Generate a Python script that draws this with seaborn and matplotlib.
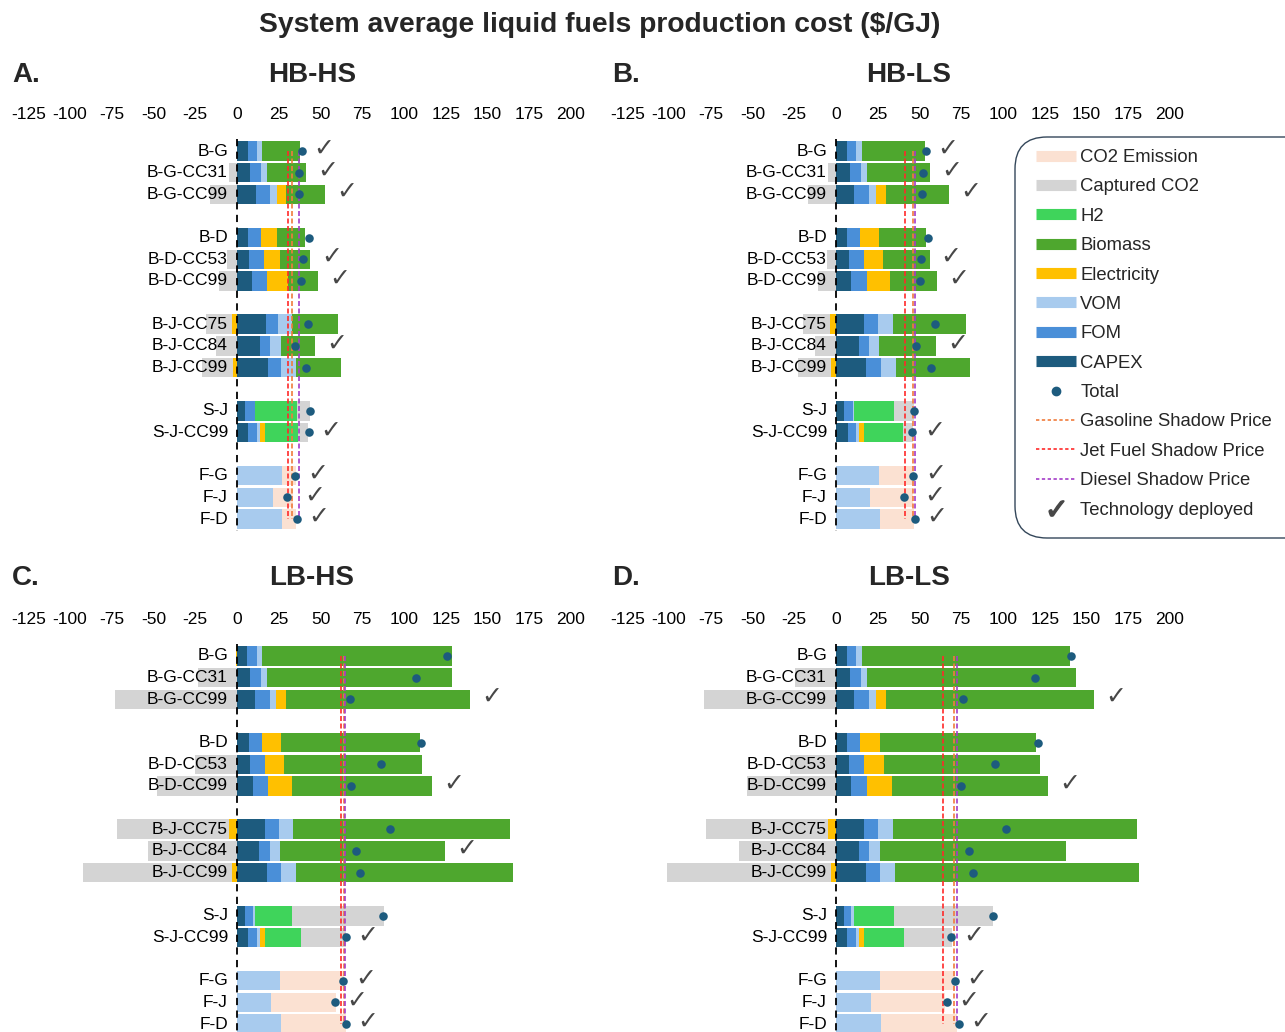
import matplotlib
matplotlib.use("Agg")
import matplotlib.pyplot as plt
import seaborn as sns
from matplotlib.lines import Line2D
from matplotlib.patches import FancyBboxPatch
from matplotlib.transforms import IdentityTransform

sns.set_theme(style="white")
plt.rcParams["font.family"] = ["Liberation Sans", "DejaVu Sans"]

# ---------------- data ----------------
categories = ["B-G", "B-G-CC31", "B-G-CC99", "B-D", "B-D-CC53", "B-D-CC99",
              "B-J-CC75", "B-J-CC84", "B-J-CC99", "S-J", "S-J-CC99",
              "F-G", "F-J", "F-D"]
row_groups = [0, 0, 0, 1, 1, 1, 2, 2, 2, 3, 3, 4, 4, 4]
tick_values = [-125, -100, -75, -50, -25, 0, 25, 50, 75, 100, 125, 150, 175, 200]

panel_letters = ["A.", "B.", "C.", "D."]
panel_titles = ["HB-HS", "HB-LS", "LB-HS", "LB-LS"]

# HB-HS
capex_A   = [6.5, 8, 11.5, 6.5, 7, 9, 17.5, 13.5, 18.5, 5, 6.5, 0, 0, 0]
fom_A     = [5.5, 6.5, 8, 8, 9, 9, 7, 6, 8, 5.5, 5.5, 0, 0, 0]
vom_A     = [3, 3.5, 4.5, 0, 0, 0, 8.5, 7, 9, 0.5, 2, 27, 21.5, 27]
elec_A    = [0, 0, 5.5, 9.5, 10, 12.5, -3, 0, -2.5, 0, 2.5, 0, 0, 0]
biomass_A = [23, 23.5, 23, 17, 17.5, 18, 27.5, 20.5, 27, 0, 0, 0, 0, 0]
h2_A      = [0, 0, 0, 0, 0, 0, 0, 0, 0, 25, 20, 0, 0, 0]
capco2_A  = [0, -5, -16, 0, -6, -11, -15.5, -12.5, -18.5, 8, 6, 0, 0, 0]
emis_A    = [0, 0, 0, 0, 0, 0, 0, 0, 0, 0, 0, 8.5, 12, 8.5]
total_A   = [39, 37, 37, 43, 39.5, 38.5, 42.5, 35, 41.5, 43.5, 43, 35, 30, 36]
deployed_A = [1, 1, 1, 0, 1, 1, 0, 1, 0, 0, 1, 1, 1, 1]
shadow_A  = [33, 30.5, 37]   # gasoline, jet fuel, diesel

# HB-LS
capex_B   = [6.5, 8.5, 11, 6.5, 7.5, 9, 17, 13.5, 18, 5, 7, 0, 0, 0]
fom_B     = [5.5, 6.5, 8.5, 8, 9, 9.5, 8, 6.5, 9, 5, 5, 0, 0, 0]
vom_B     = [3.5, 3.5, 4.5, 0, 0, 0, 9, 6, 9, 0.5, 1.5, 26, 20.5, 26.5]
elec_B    = [0, 0, 6, 11.5, 11.5, 14, -3.5, 0, -3, 0, 3.5, 0, 0, 0]
biomass_B = [38, 38, 37.5, 28, 28, 28, 44, 34, 44, 0, 0, 0, 0, 0]
h2_B      = [0, 0, 0, 0, 0, 0, 0, 0, 0, 24, 23, 0, 0, 0]
capco2_B  = [0, -5, -17, 0, -5.5, -11, -16.5, -12.5, -20, 12.5, 6, 0, 0, 0]
emis_B    = [0, 0, 0, 0, 0, 0, 0, 0, 0, 0, 0, 20.5, 25.5, 20.5]
total_B   = [54, 52, 51.5, 55, 51, 50.5, 59, 48, 57, 46.5, 45.5, 46, 41, 47.5]
deployed_B = [1, 1, 1, 0, 1, 1, 0, 1, 0, 0, 1, 1, 1, 1]
shadow_B  = [46, 41.5, 47.5]

# LB-HS
capex_C   = [6, 8, 11, 7, 8, 9.5, 17, 13, 18, 5, 6.5, 0, 0, 0]
fom_C     = [6, 6.5, 8.5, 8, 8.5, 9, 8, 6.5, 8.5, 4.5, 5.5, 0, 0, 0]
vom_C     = [3, 3.5, 4, 0, 0, 0, 8.5, 6.5, 9, 1.5, 1.5, 26, 20.5, 26.5]
elec_C    = [-0.8, 0, 6, 11.5, 11.5, 14.5, -4.5, 0, -3, 0, 3.5, 0, 0, 0]
biomass_C = [113.5, 110.5, 110, 83, 83, 83.5, 130, 98.5, 130, 0, 0, 0, 0, 0]
h2_C      = [0, 0, 0, 0, 0, 0, 0, 0, 0, 22, 21.5, 0, 0, 0]
capco2_C  = [0, -23.5, -73, 0, -25, -48, -67.5, -53.5, -89, 55, 26.5, 0, 0, 0]
emis_C    = [0, 0, 0, 0, 0, 0, 0, 0, 0, 0, 0, 38, 38.5, 38.5]
total_C   = [126, 107, 67.5, 110, 86, 68.5, 91.5, 71.5, 73.5, 87.5, 65, 63.5, 58.5, 65]
deployed_C = [0, 0, 1, 0, 0, 1, 0, 1, 0, 0, 1, 1, 1, 1]
shadow_C  = [64, 62, 64.5]

# LB-LS
capex_D   = [6.5, 8.5, 11, 6.5, 8, 9, 17, 13.5, 18, 5, 6.5, 0, 0, 0]
fom_D     = [5.5, 6.5, 8.5, 8, 8.5, 9.5, 8, 6, 8.5, 4, 5.5, 0, 0, 0]
vom_D     = [3.5, 3.5, 4.5, 0, 0, 0, 9, 7, 9, 1.5, 1.5, 26.5, 21, 27]
elec_D    = [0, 0, 6, 12, 12, 15, -5, 0, -3, 0, 3.5, 0, 0, 0]
biomass_D = [124.5, 125, 124.5, 93.5, 93.5, 93.5, 146, 111, 146, 0, 0, 0, 0, 0]
h2_D      = [0, 0, 0, 0, 0, 0, 0, 0, 0, 24, 23.5, 0, 0, 0]
capco2_D  = [0, -24.5, -79, 0, -27.5, -53, -73, -58, -98, 59.5, 29, 0, 0, 0]
emis_D    = [0, 0, 0, 0, 0, 0, 0, 0, 0, 0, 0, 44.5, 44.5, 45.5]
total_D   = [141, 119, 76, 121, 95, 75, 102, 79.5, 82, 94, 69, 71, 66.5, 73.5]
deployed_D = [0, 0, 1, 0, 0, 1, 0, 0, 0, 0, 1, 1, 1, 1]
shadow_D  = [70.5, 64, 72.5]

# ---------------- styles ----------------
C_CAPEX = "#1d5b7e"
C_FOM = "#4a8fd8"
C_VOM = "#a8cbee"
C_ELEC = "#ffc000"
C_BIO = "#4ea72e"
C_H2 = "#3fd45b"
C_CAP = "#d4d4d4"
C_EMIS = "#fbe1d2"
C_TOTAL = "#1d5b7e"
C_GAS = "#f07c3c"
C_JET = "#ff2a2a"
C_DIE = "#a43cc8"
C_CHECK = "#474747"

panels = [
    (capex_A, fom_A, vom_A, elec_A, biomass_A, h2_A, capco2_A, emis_A, total_A, deployed_A, shadow_A),
    (capex_B, fom_B, vom_B, elec_B, biomass_B, h2_B, capco2_B, emis_B, total_B, deployed_B, shadow_B),
    (capex_C, fom_C, vom_C, elec_C, biomass_C, h2_C, capco2_C, emis_C, total_C, deployed_C, shadow_C),
    (capex_D, fom_D, vom_D, elec_D, biomass_D, h2_D, capco2_D, emis_D, total_D, deployed_D, shadow_D),
]

W, H = 1285, 1032
fig = plt.figure(figsize=(W / 100, H / 100), dpi=100)

px_per_unit = 1.67
xlim = (-135, 210)
row_px = 21.65
zero_px = [237, 836, 237, 836]
row0_px = [151, 151, 656, 656]

ypos = [i + g for i, g in enumerate(row_groups)]
ylim = (ypos[-1] + 0.7, -0.9)

for k, data in enumerate(panels):
    capex, fom, vom, elec, bio, h2, cap, emis, total, dep, shadow = data
    left_px = zero_px[k] - (0 - xlim[0]) * px_per_unit
    width_px = (xlim[1] - xlim[0]) * px_per_unit
    top_px = row0_px[k] + ylim[1] * row_px
    height_px = (ylim[0] - ylim[1]) * row_px
    ax = fig.add_axes([left_px / W, 1 - (top_px + height_px) / H, width_px / W, height_px / H])
    ax.set_xlim(*xlim)
    ax.set_ylim(*ylim)

    comps = [(capex, C_CAPEX), (fom, C_FOM), (vom, C_VOM), (elec, C_ELEC),
             (bio, C_BIO), (h2, C_H2), (cap, C_CAP), (emis, C_EMIS)]
    bar_h = 0.9
    for i, y in enumerate(ypos):
        pos = 0.0
        neg = 0.0
        for vals, col in comps:
            v = vals[i]
            if v > 0:
                ax.barh(y, v, left=pos, height=bar_h, color=col, linewidth=0, zorder=2)
                pos += v
            elif v < 0:
                ax.barh(y, v, left=neg, height=bar_h, color=col, linewidth=0, zorder=2)
                neg += v
        if dep[i]:
            xc = max(pos, total[i]) + 13
            ax.text(xc, y - 0.1, "\u2713", fontsize=18, color=C_CHECK, ha="center",
                    va="center", family=["DejaVu Sans"], zorder=6)
        ax.annotate(categories[i], xy=(0, y), xytext=(-9, 0), textcoords="offset pixels",
                    ha="right", va="center", fontsize=12.5, color="black", zorder=7)

    ax.plot([0, 0], [-0.55, ypos[-1] + 0.55], color="black", lw=1.3,
            linestyle=(0, (4, 3)), zorder=5)
    for val, col in zip(shadow, [C_GAS, C_JET, C_DIE]):
        ax.plot([val, val], [0, ypos[-1]], color=col, lw=1.2,
                linestyle=(0, (3, 1.5)), zorder=3)
    sns.scatterplot(x=total, y=ypos, ax=ax, color=C_TOTAL, s=38, linewidth=0,
                    zorder=4, legend=False)

    ax.set_xticks(tick_values)
    ax.set_xticklabels([str(t) for t in tick_values])
    ax.set_yticks([])
    ax.xaxis.tick_top()
    ax.tick_params(axis="x", top=False, bottom=False, labeltop=True, labelbottom=False,
                   length=0, pad=7, labelsize=12.5, labelcolor="black")
    for s in ax.spines.values():
        s.set_visible(False)
    ax.set_facecolor("none")
    ax.grid(False)

    lx = [12, 612, 12, 612][k]
    ly = [75, 75, 578, 578][k]
    tx = [312, 909, 312, 909][k]
    fig.text(lx / W, 1 - ly / H, panel_letters[k], fontsize=20, fontweight="bold",
             ha="left", va="center")
    fig.text(tx / W, 1 - ly / H, panel_titles[k], fontsize=20, fontweight="bold",
             ha="center", va="center")

fig.text(600 / W, 1 - 25 / H, "System average liquid fuels production cost ($/GJ)",
         fontsize=20.3, fontweight="bold", ha="center", va="center")

# legend box (rounded, running off the right edge as in the reference)
box = FancyBboxPatch((1015, H - 538), 310, 401, boxstyle="round,pad=0,rounding_size=32",
                     transform=IdentityTransform(), facecolor="white",
                     edgecolor="#34475a", linewidth=1.0, zorder=10)
fig.add_artist(box)

lw_patch = 8
handles = [
    Line2D([], [], color=C_EMIS, lw=lw_patch, solid_capstyle="butt"),
    Line2D([], [], color=C_CAP, lw=lw_patch, solid_capstyle="butt"),
    Line2D([], [], color=C_H2, lw=lw_patch, solid_capstyle="butt"),
    Line2D([], [], color=C_BIO, lw=lw_patch, solid_capstyle="butt"),
    Line2D([], [], color=C_ELEC, lw=lw_patch, solid_capstyle="butt"),
    Line2D([], [], color=C_VOM, lw=lw_patch, solid_capstyle="butt"),
    Line2D([], [], color=C_FOM, lw=lw_patch, solid_capstyle="butt"),
    Line2D([], [], color=C_CAPEX, lw=lw_patch, solid_capstyle="butt"),
    Line2D([], [], color=C_TOTAL, lw=0, marker="o", markersize=6),
    Line2D([], [], color=C_GAS, lw=1.2, linestyle=(0, (2, 1.5))),
    Line2D([], [], color=C_JET, lw=1.2, linestyle=(0, (2, 1.5))),
    Line2D([], [], color=C_DIE, lw=1.2, linestyle=(0, (2, 1.5))),
    Line2D([], [], color=C_CHECK, lw=0, marker="$\u2713$", markersize=11),
]
labels = ["CO2 Emission", "Captured CO2", "H2", "Biomass", "Electricity", "VOM", "FOM",
          "CAPEX", "Total", "Gasoline Shadow Price", "Jet Fuel Shadow Price",
          "Diesel Shadow Price", "Technology deployed"]
leg = fig.legend(handles, labels, loc="upper left",
                 bbox_to_anchor=(1036 / W, 1 - 149 / H), fontsize=13.3,
                 frameon=False, handlelength=2.15, handletextpad=0.25,
                 labelspacing=0.67, borderpad=0, borderaxespad=0)
leg.set_zorder(11)

fig.savefig("out.png", dpi=100)
